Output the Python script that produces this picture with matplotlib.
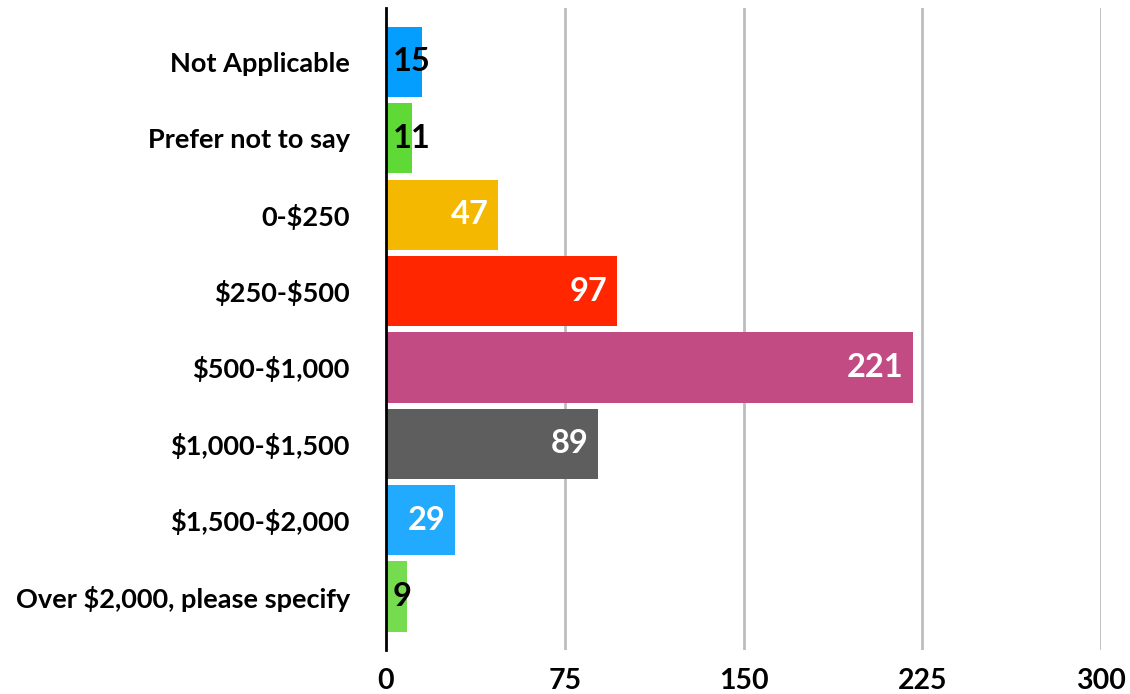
import matplotlib
matplotlib.use("Agg")
import matplotlib.pyplot as plt

categories = [
    "Not Applicable",
    "Prefer not to say",
    "0-$250",
    "$250-$500",
    "$500-$1,000",
    "$1,000-$1,500",
    "$1,500-$2,000",
    "Over $2,000, please specify",
]
counts = [15, 11, 47, 97, 221, 89, 29, 9]
bar_colors = ["#049EFF", "#5ED936", "#F5B800", "#FF2600",
              "#C24B84", "#5E5E5E", "#22AAFF", "#74DC4E"]
x_ticks = [0, 75, 150, 225, 300]

plt.rcParams["font.family"] = ["Lato", "DejaVu Sans"]
plt.rcParams["text.parse_math"] = False

fig = plt.figure(figsize=(11.30, 6.94), dpi=100)
ax = fig.add_axes([386 / 1130, 1 - 650 / 694, (1101 - 386) / 1130, 642 / 694])

y = list(range(len(categories)))
ax.barh(y, counts, height=0.92, color=bar_colors, zorder=3)

ax.set_xlim(0, 300)
ax.set_ylim(7.70, -0.707)

ax.set_xticks(x_ticks)
ax.set_xticklabels([str(t) for t in x_ticks], fontsize=20.5, fontweight="bold")
ax.set_yticks(y)
ax.set_yticklabels(categories, fontsize=19.5, fontweight="bold")
ax.tick_params(axis="both", length=0)
ax.tick_params(axis="y", pad=26)
ax.tick_params(axis="x", pad=13)

for side in ["top", "right", "bottom"]:
    ax.spines[side].set_visible(False)
ax.spines["left"].set_linewidth(2)
ax.spines["left"].set_color("black")
ax.spines["left"].set_zorder(4)

for t in x_ticks[1:]:
    ax.axvline(t, color="#BDBDBD", linewidth=2, zorder=1)

# value labels: inside the bar end in white, or beside the axis in black for short bars
for yi, v in zip(y, counts):
    if v < 20:
        ax.annotate(str(v), xy=(0, yi), xytext=(5, 0), textcoords="offset points",
                    ha="left", va="center", fontsize=23.5, fontweight="bold",
                    color="black", zorder=5)
    else:
        ax.annotate(str(v), xy=(v, yi), xytext=(-7, 0), textcoords="offset points",
                    ha="right", va="center", fontsize=23.5, fontweight="bold",
                    color="white", zorder=5)

fig.savefig("out.png", dpi=100)
